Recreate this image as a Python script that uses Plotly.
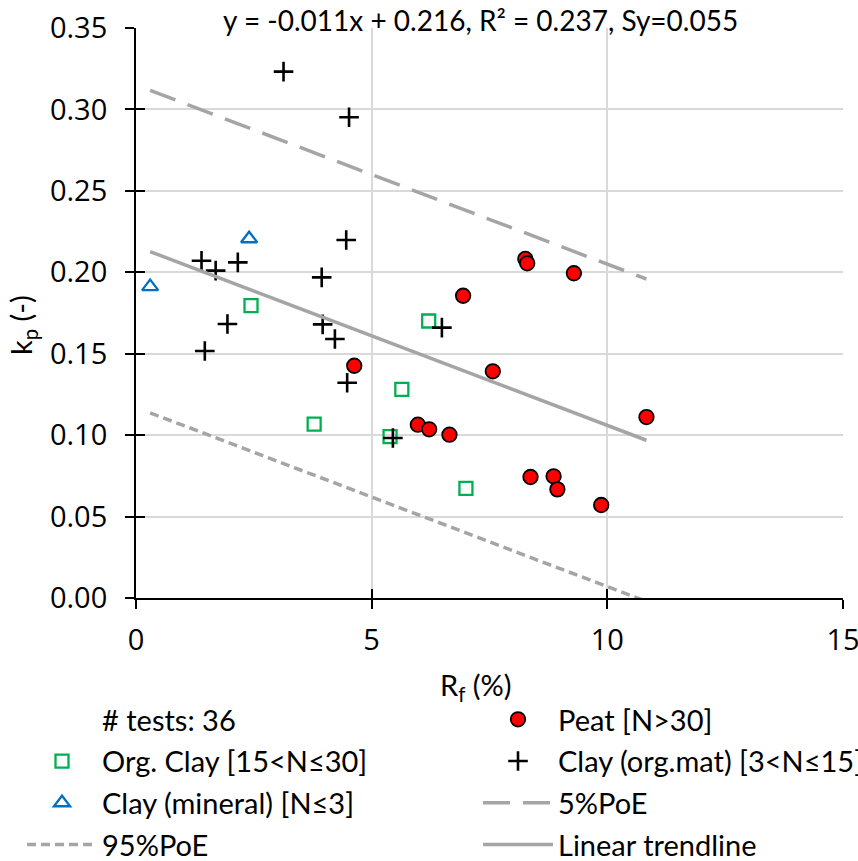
import plotly.graph_objects as go

# Sleeve friction ratio Rf (%) and correlation factor kp (-) per soil class
peat_rf = [4.63, 6.94, 8.26, 8.30, 9.29, 7.57, 5.98, 6.22, 6.65, 8.37, 8.86, 8.94, 9.87, 10.83]
peat_kp = [0.1426, 0.1856, 0.2082, 0.2055, 0.1994, 0.1392, 0.1064, 0.1036, 0.1003, 0.0743, 0.0747, 0.0667, 0.0571, 0.1111]

orgclay_rf = [2.44, 6.21, 5.64, 5.39, 7.00, 3.78]
orgclay_kp = [0.1795, 0.1701, 0.1281, 0.0991, 0.0673, 0.1068]

mineral_rf = [2.40, 0.30]
mineral_kp = [0.2206, 0.1912]

orgmat_rf = [3.13, 4.52, 4.46, 1.39, 1.69, 2.16, 3.94, 1.94, 3.96, 4.22, 6.49, 4.48, 5.45, 1.46]
orgmat_kp = [0.3232, 0.2952, 0.2198, 0.2071, 0.2010, 0.2061, 0.1969, 0.1682, 0.1680, 0.1590, 0.1660, 0.1322, 0.0982, 0.1517]

# Regression statistics
SLOPE = -0.011
INTERCEPT = 0.216
R2 = 0.237
SY = 0.055
POE_OFFSET = 0.099  # offset of the 5% / 95% probability-of-exceedance bounds

x_ticks = [0, 5, 10, 15]
y_ticks = [0.00, 0.05, 0.10, 0.15, 0.20, 0.25, 0.30, 0.35]

all_rf = peat_rf + orgclay_rf + mineral_rf + orgmat_rf
n_tests = len(all_rf)
trend_x = [min(all_rf), max(all_rf)]
trend_y = [SLOPE * x + INTERCEPT for x in trend_x]
upper_y = [y + POE_OFFSET for y in trend_y]
lower_y = [y - POE_OFFSET for y in trend_y]

GRAY = "#A5A5A5"
TEXT_FONT = "Lato, Carlito, sans-serif"
TICK_FONT = "Open Sans, sans-serif"

W, H = 858, 861
ML, MR, MT, MB = 136, 15, 28, 263
PW, PH = W - ML - MR, H - MT - MB


def px_to_paper_x(px):
    return (px - ML) / PW


def px_to_paper_y(py):
    return (H - MB - py) / PH


fig = go.Figure()

# column 1 of the legend
fig.add_trace(go.Scatter(x=[None], y=[None], mode="markers", name=f"# tests: {n_tests}",
                         marker=dict(color="rgba(0,0,0,0)", size=1), legend="legend",
                         legendgroup="a", hoverinfo="skip"))
fig.add_trace(go.Scatter(x=orgclay_rf, y=orgclay_kp, mode="markers", name="Org. Clay [15<N≤30]",
                         marker=dict(symbol="square-open", size=13, color="#00B050", line=dict(width=2.3)),
                         legend="legend", legendgroup="b"))
fig.add_trace(go.Scatter(x=mineral_rf, y=mineral_kp, mode="markers", name="Clay (mineral) [N≤3]",
                         marker=dict(symbol="triangle-up-open", size=14, color="#0070C0", line=dict(width=2.3)),
                         legend="legend", legendgroup="c"))
fig.add_trace(go.Scatter(x=trend_x, y=lower_y, mode="lines", name="95%PoE",
                         line=dict(color=GRAY, width=3.5, dash="9px,5px"),
                         legend="legend", legendgroup="d"))

# column 2 of the legend
fig.add_trace(go.Scatter(x=peat_rf, y=peat_kp, mode="markers", name="Peat [N>30]",
                         marker=dict(symbol="circle", size=14.5, color="#FF0000", line=dict(width=1.8, color="black")),
                         legend="legend2", legendgroup="e"))
fig.add_trace(go.Scatter(x=orgmat_rf, y=orgmat_kp, mode="markers", name="Clay (org.mat) [3<N≤15]",
                         marker=dict(symbol="cross-thin-open", size=14, color="black", line=dict(width=2.6, color="black")),
                         legend="legend2", legendgroup="f"))
fig.add_trace(go.Scatter(x=trend_x, y=upper_y, mode="lines", name="5%PoE",
                         line=dict(color=GRAY, width=3.5, dash="27px,13px"),
                         legend="legend2", legendgroup="g"))
fig.add_trace(go.Scatter(x=trend_x, y=trend_y, mode="lines", name="Linear trendline",
                         line=dict(color=GRAY, width=3.5),
                         legend="legend2", legendgroup="h"))

# invisible carrier so the overlay axes (inner half of the crossing ticks) are drawn
fig.add_trace(go.Scatter(x=trend_x, y=trend_y, mode="lines", line=dict(width=0, color="rgba(0,0,0,0)"),
                         xaxis="x2", yaxis="y2", showlegend=False, hoverinfo="skip"))

axis_common = dict(showline=True, linecolor="black", linewidth=1.8, zeroline=False,
                   ticks="outside", ticklen=9, tickwidth=1.8, tickcolor="black",
                   showgrid=True, gridcolor="#D9D9D9", gridwidth=2,
                   ticklabeloverflow="allow",
                   tickfont=dict(family=TICK_FONT, size=29, color="black"))

inner_ticks = dict(showticklabels=False, ticks="inside", ticklen=9, tickwidth=1.8, tickcolor="black",
                   showgrid=False, zeroline=False, showline=False)

legend_common = dict(orientation="v", yanchor="top", xanchor="left",
                     bgcolor="rgba(0,0,0,0)", borderwidth=0, itemwidth=70,
                     font=dict(family=TEXT_FONT, size=29, color="black"),
                     tracegroupgap=1)

fig.update_layout(
    width=W, height=H,
    margin=dict(l=ML, r=MR, t=MT, b=MB, autoexpand=False),
    plot_bgcolor="white", paper_bgcolor="white",
    xaxis=dict(range=[0, 15], tickvals=x_ticks, ticktext=[str(v) for v in x_ticks],
               ticklabelstandoff=6, **axis_common),
    yaxis=dict(range=[0, 0.35], tickvals=y_ticks, ticktext=[f"{v:.2f}" for v in y_ticks],
               ticklabelstandoff=12, **axis_common),
    xaxis2=dict(overlaying="x", anchor="y", side="bottom", range=[0, 15], tickvals=x_ticks, **inner_ticks),
    yaxis2=dict(overlaying="y", anchor="x", side="left", range=[0, 0.35], tickvals=y_ticks, **inner_ticks),
    legend=dict(x=px_to_paper_x(22), y=px_to_paper_y(694), **legend_common),
    legend2=dict(x=px_to_paper_x(478), y=px_to_paper_y(694), **legend_common),
    showlegend=True,
    annotations=[
        dict(text=f"y = {SLOPE}x + {INTERCEPT}, R² = {R2}, Sy={SY:.3f}", xref="paper", yref="paper",
             x=px_to_paper_x(480), y=px_to_paper_y(20), showarrow=False, xanchor="center", yanchor="middle",
             font=dict(family=TEXT_FONT, size=28, color="black")),
        dict(text="R<sub>f</sub> (%)", xref="paper", yref="paper", x=px_to_paper_x(475), y=px_to_paper_y(686),
             showarrow=False, xanchor="center", yanchor="middle",
             font=dict(family=TEXT_FONT, size=29, color="black")),
        dict(text="k<sub>p</sub> (-)", xref="paper", yref="paper", x=px_to_paper_x(22), y=px_to_paper_y(325),
             textangle=-90, showarrow=False, xanchor="center", yanchor="middle",
             font=dict(family=TEXT_FONT, size=29, color="black")),
    ],
)

fig.write_html("out.html")
